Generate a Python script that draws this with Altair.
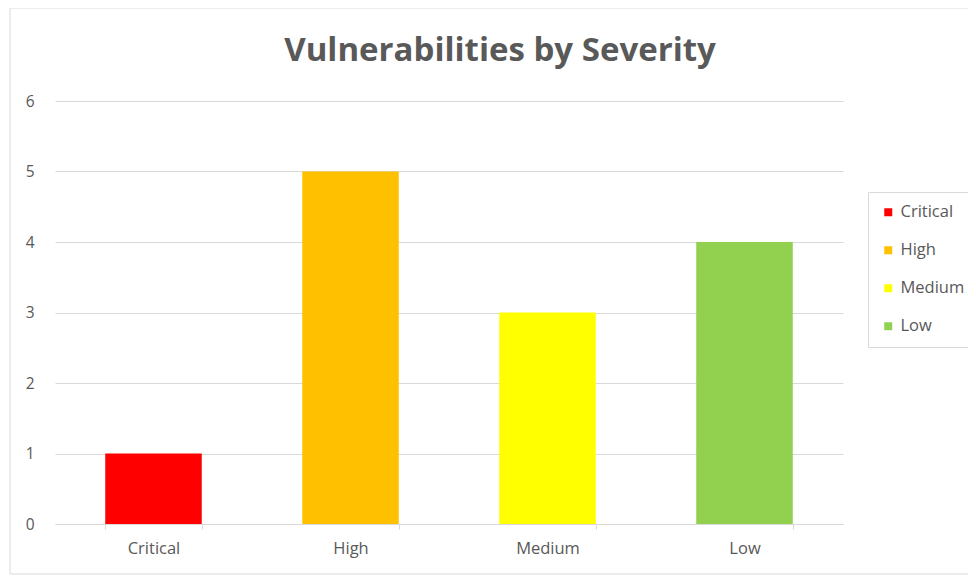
import altair as alt
import pandas as pd

categories = ["Critical", "High", "Medium", "Low"]
counts = [1, 5, 3, 4]
colors = ["#FF0000", "#FFC000", "#FFFF00", "#92D050"]
title_text = "Vulnerabilities by Severity"

df = pd.DataFrame({"Severity": categories, "Count": counts})
frame_df = pd.DataFrame({"t": [title_text]})

FONT = "Open Sans"
GRAY = "#595959"

bars = alt.Chart(df).mark_bar().encode(
    x=alt.X("Severity:N", sort=categories, title=None,
            scale=alt.Scale(paddingInner=0.51, paddingOuter=0.255),
            axis=alt.Axis(labelAngle=0, labelFontSize=16.5, labelColor=GRAY, labelFont=FONT,
                          domainColor="#d9d9d9", tickColor="#d9d9d9", tickBand="extent",
                          tickSize=5, labelPadding=11, grid=False)),
    y=alt.Y("Count:Q", title=None,
            scale=alt.Scale(domain=[0, 6], nice=False),
            axis=alt.Axis(values=[0, 1, 2, 3, 4, 5, 6], labelFontSize=15.5, labelColor=GRAY,
                          labelFont=FONT, domain=False, ticks=False, labelPadding=21,
                          gridColor="#d9d9d9", gridWidth=1)),
    color=alt.Color("Severity:N", sort=categories,
                    scale=alt.Scale(domain=categories, range=colors),
                    legend=alt.Legend(title=None, orient="none", legendX=813, legendY=91,
                                      strokeColor="#d9d9d9", fillColor="white", padding=12,
                                      symbolType="square", symbolSize=64, symbolStrokeWidth=0,
                                      labelFontSize=16.5, labelColor=GRAY, labelFont=FONT,
                                      rowPadding=21, labelOffset=4, symbolOffset=0)),
)

border = alt.Chart(frame_df).mark_rect(fill=None, stroke="#d9d9d9", strokeWidth=1).encode(
    x=alt.value(-45), x2=alt.value(925), y=alt.value(-93), y2=alt.value(473)
)

title = alt.Chart(frame_df).mark_text(
    font=FONT, fontSize=33, fontWeight="bold", color=GRAY, align="center", baseline="middle"
).encode(x=alt.value(445), y=alt.value(-50), text="t:N")

chart = alt.layer(border, title, bars).properties(
    width=788,
    height=423,
    autosize=alt.AutoSizeParams(type="none"),
    padding={"left": 47, "top": 93, "right": 125, "bottom": 52},
).configure_view(stroke=None)

chart.save("out.html", embed_options={"renderer": "svg", "actions": False})
